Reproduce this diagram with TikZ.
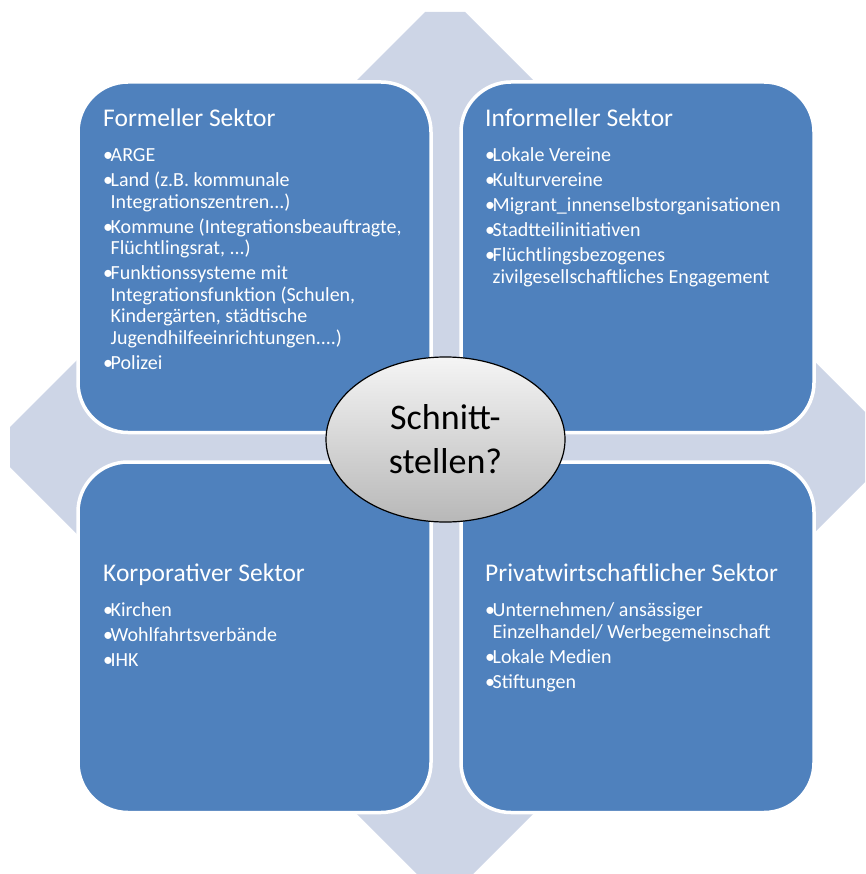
\documentclass[tikz,border=0pt]{standalone}
\usepackage{fontspec}
\setmainfont{Carlito}
\usetikzlibrary{shapes.geometric}
\definecolor{boxblue}{RGB}{79,129,189}
\definecolor{diamondc}{RGB}{205,213,230}
\newcommand\myblt{\makebox[7.5pt][l]{•}}
\newcommand\myind{\hspace*{7.5pt}}
\newcommand\mylist[1]{\begin{tabular}[t]{@{}l@{}}#1\end{tabular}}
\begin{document}
\begin{tikzpicture}[x=1pt,y=-1pt,
  sectorbox/.style={draw=white, line width=3.5pt, fill=boxblue, rounded corners=50pt,
    minimum width=353pt, minimum height=350.5pt, inner sep=0pt},
  sectortitle/.style={anchor=base west, inner sep=0pt, text=white,
    font=\fontsize{25.5}{30}\selectfont},
  sectorlist/.style={anchor=base west, inner sep=0pt, text=white,
    font=\fontsize{20}{21.5}\selectfont},
  centeroval/.style={ellipse, draw=black, line width=1.2pt, top color=white!96!black,
    bottom color=white!72!black, minimum width=239pt, minimum height=165pt, inner sep=0pt,
    align=center, font=\fontsize{36}{44}\selectfont}
]
\useasboundingbox (0,0) rectangle (865,874);
\clip (0,0) rectangle (865,874);
\fill[diamondc] (425,12) -- (465,12) -- (880,427) -- (880,467) -- (465,882) -- (425,882)
  -- (10,467) -- (10,427) -- cycle;

\node[sectorbox] (tl) at (254.5,257.25) {};
\node[sectorbox] (tr) at (637.5,257.25) {};
\node[sectorbox] (bl) at (254.5,637.25) {};
\node[sectorbox] (br) at (637.5,637.25) {};

\node[sectortitle] (tlh) at (103,126.5) {Formeller Sektor};
\node[sectorlist] (tlb) at (103,162) {\mylist{\myblt ARGE\\[3.5pt]
\myblt Land (z.B. kommunale\\
\myind Integrationszentren...)\\[3.5pt]
\myblt Kommune (Integrationsbeauftragte,\\
\myind Flüchtlingsrat, ...)\\[3.5pt]
\myblt Funktionssysteme mit\\
\myind Integrationsfunktion (Schulen,\\
\myind Kindergärten, städtische\\
\myind Jugendhilfeeinrichtungen....)\\[3.5pt]
\myblt Polizei}};

\node[sectortitle] (trh) at (485,126.5) {Informeller Sektor};
\node[sectorlist] (trb) at (485,162) {\mylist{\myblt Lokale Vereine\\[3.5pt]
\myblt Kulturvereine\\[3.5pt]
\myblt Migrant\_innenselbstorganisationen\\[3.5pt]
\myblt Stadtteilinitiativen\\[3.5pt]
\myblt Flüchtlingsbezogenes\\
\myind zivilgesellschaftliches Engagement}};

\node[sectortitle] (blh) at (103,581) {Korporativer Sektor};
\node[sectorlist] (blb) at (103,616.5) {\mylist{\myblt Kirchen\\[3.5pt]
\myblt Wohlfahrtsverbände\\[3.5pt]
\myblt IHK}};

\node[sectortitle] (brh) at (485,581) {Privatwirtschaftlicher Sektor};
\node[sectorlist] (brb) at (485,616.5) {\mylist{\myblt Unternehmen/ ansässiger\\
\myind Einzelhandel/ Werbegemeinschaft\\[3.5pt]
\myblt Lokale Medien\\[3.5pt]
\myblt Stiftungen}};

\node[centeroval] (mid) at (445.5,439.5) {Schnitt-\\stellen?};
\end{tikzpicture}
\end{document}
